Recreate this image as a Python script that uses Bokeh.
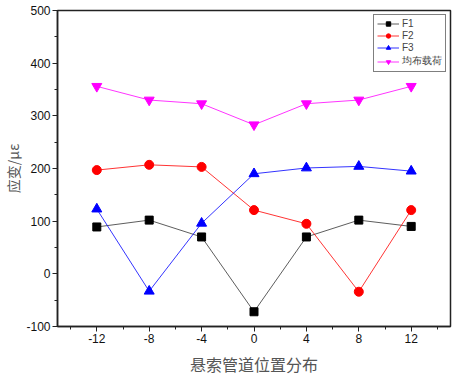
from bokeh.plotting import figure
from bokeh.embed import file_html
from bokeh.resources import INLINE
from bokeh.models import Range1d, FixedTicker, Legend, LegendItem

positions = [-12, -8, -4, 0, 4, 8, 12]
f1 = [89, 102, 70, -72, 70, 102, 90]
f2 = [197, 207, 203, 121, 95, -34, 121]
f3 = [123, -33, 96, 190, 201, 204, 195]
load = [356, 330, 323, 283, 323, 330, 356]
series_names = ["F1", "F2", "F3", "均布载荷"]
x_ticks = [-12, -8, -4, 0, 4, 8, 12]
y_ticks = [-100, 0, 100, 200, 300, 400, 500]

p = figure(width=457, height=380, output_backend="svg", toolbar_location=None,
           x_range=Range1d(-15, 15), y_range=Range1d(-100, 500),
           min_border_left=57, min_border_top=10, min_border_right=7, min_border_bottom=54)
p.background_fill_color = "white"
p.border_fill_color = "white"
p.outline_line_color = "#222222"
p.outline_line_width = 1.5
p.xgrid.visible = False
p.ygrid.visible = False

r1l = p.line(positions, f1, line_color="#333333", line_width=0.8)
r1m = p.scatter(positions, f1, marker="square", size=8, color="black")
r2l = p.line(positions, f2, line_color="red", line_width=0.8)
r2m = p.scatter(positions, f2, marker="circle", size=9, color="red")
r3l = p.line(positions, f3, line_color="blue", line_width=0.8)
r3m = p.scatter(positions, f3, marker="triangle", size=10, color="blue")
r4l = p.line(positions, load, line_color="magenta", line_width=0.8)
r4m = p.scatter(positions, load, marker="inverted_triangle", size=10, color="magenta")

for ax in (p.xaxis[0], p.yaxis[0]):
    ax.axis_line_color = "#222222"
    ax.axis_line_width = 1.5
    ax.major_tick_line_color = "#222222"
    ax.minor_tick_line_color = "#222222"
    ax.major_tick_out = 5
    ax.major_tick_in = 0
    ax.minor_tick_out = 3
    ax.minor_tick_in = 0
    ax.major_label_standoff = 2
    ax.major_label_text_font = "Liberation Sans"
    ax.major_label_text_font_size = "12px"
    ax.major_label_text_color = "#111111"
    ax.axis_label_text_font = "Noto Sans CJK SC"
    ax.axis_label_text_font_style = "normal"
    ax.axis_label_text_color = "#555555"

p.xaxis.ticker = FixedTicker(ticks=x_ticks, minor_ticks=[-14, -10, -6, -2, 2, 6, 10, 14])
p.yaxis.ticker = FixedTicker(ticks=y_ticks, minor_ticks=[-50, 50, 150, 250, 350, 450])
p.xaxis.major_label_overrides = {t: str(t) for t in x_ticks}
p.yaxis.major_label_overrides = {t: str(t) for t in y_ticks}
p.xaxis.axis_label = "悬索管道位置分布"
p.xaxis.axis_label_text_font_size = "16px"
p.xaxis.axis_label_standoff = 6
p.yaxis.axis_label = "应变/με"
p.yaxis.axis_label_text_font_size = "14px"
p.yaxis.axis_label_standoff = 0

legend = Legend(items=[
    LegendItem(label=series_names[0], renderers=[r1l, r1m]),
    LegendItem(label=series_names[1], renderers=[r2l, r2m]),
    LegendItem(label=series_names[2], renderers=[r3l, r3m]),
    LegendItem(label=series_names[3], renderers=[r4l, r4m]),
], location="top_right")
legend.label_text_font_size = "10px"
legend.label_text_font = "Liberation Sans"
legend.border_line_color = "black"
legend.border_line_width = 1
legend.glyph_height = 11
legend.glyph_width = 22
legend.label_height = 11
legend.spacing = 1
legend.padding = 3
legend.margin = 4
legend.label_standoff = 3
p.add_layout(legend)

open("out.html", "w").write(file_html(p, INLINE))
